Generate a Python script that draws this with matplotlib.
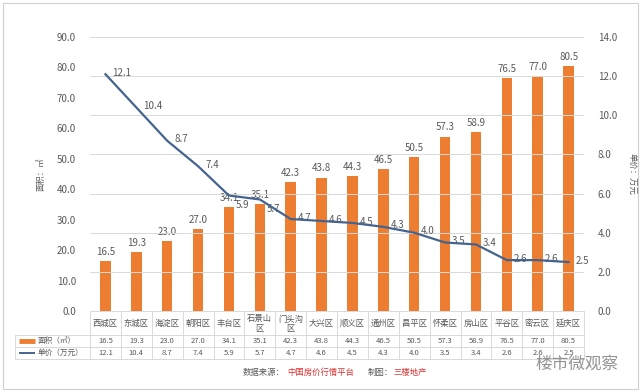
import matplotlib.pyplot as plt
from matplotlib.patches import Rectangle
from matplotlib.lines import Line2D

plt.rcParams['font.family'] = ['Noto Sans CJK SC', 'DejaVu Sans']

# data
districts = ["西城区", "东城区", "海淀区", "朝阳区", "丰台区", "石景山\n区", "门头沟\n区", "大兴区",
             "顺义区", "通州区", "昌平区", "怀柔区", "房山区", "平谷区", "密云区", "延庆区"]
area = [16.5, 19.3, 23.0, 27.0, 34.1, 35.1, 42.3, 43.8, 44.3, 46.5, 50.5, 57.3, 58.9, 76.5, 77.0, 80.5]
price = [12.1, 10.4, 8.7, 7.4, 5.9, 5.7, 4.7, 4.6, 4.5, 4.3, 4.0, 3.5, 3.4, 2.6, 2.6, 2.5]

W, H = 641, 392
ORANGE = '#ED7D31'
BLUE = '#44648F'
GRID = '#D9D9D9'
TXT = '#595959'

fig = plt.figure(figsize=(W / 100, H / 100), dpi=100)
fig.patches.append(Rectangle((3 / W, 3 / H), 635 / W, 386 / H, transform=fig.transFigure,
                             fill=False, edgecolor='#D0D0D0', lw=0.8))

# plot area in pixels
x0, x1, ytop, ybot = 90, 584, 37, 311
ax = fig.add_axes([x0 / W, (H - ybot) / H, (x1 - x0) / W, (ybot - ytop) / H])
ax2 = ax.twinx()
n = len(districts)
xs = list(range(n))

ax2.set_zorder(ax.get_zorder() + 1)
ax.patch.set_visible(False)

ax.bar(xs, area, width=0.34, color=ORANGE, zorder=3)
for x, v in zip(xs, area):
    ax.annotate(f"{v:.1f}", (x, v), xytext=(0, 3), textcoords='offset points',
                ha='center', va='bottom', fontsize=7, color=TXT)

ax2.plot(xs, price, color=BLUE, lw=1.6, zorder=4)
for i, (x, v) in enumerate(zip(xs, price)):
    dy = -7 if i in (4, 5) else 1
    ax2.annotate(f"{v:.1f}", (x, v), xytext=(5, dy), textcoords='offset points',
                 ha='left', va='center', fontsize=7, color=TXT)

ax.set_xlim(-0.5, n - 0.5)
ax.set_ylim(0, 90)
ax2.set_ylim(0, 14)
ax.set_yticks(range(0, 91, 10))
ax.set_yticklabels([f"{v:.1f}" for v in range(0, 91, 10)])
ax2.set_yticks(range(0, 15, 2))
ax2.set_yticklabels([f"{v:.1f}" for v in range(0, 15, 2)])
ax2.grid(axis='y', color=GRID, lw=0.7, zorder=0)
ax.set_xticks([])
for a in (ax, ax2):
    for s in a.spines.values():
        s.set_visible(False)
    a.tick_params(axis='y', length=0, labelsize=7, labelcolor=TXT, pad=10)
ax.set_ylabel("面积：㎡", fontsize=6, color=TXT, labelpad=8)
ax2.set_ylabel("单价：万元", fontsize=6, color=TXT, rotation=270, labelpad=14)

# data table below the plot (x in data coords, y in figure pixels)
def fy(y):
    return (ybot - y) / (ybot - ytop)

tr = ax.get_xaxis_transform()
rows = [311, 335, 347, 359]
for y in rows:
    ax.add_line(Line2D([-0.5, n - 0.5], [fy(y)] * 2, transform=tr, color=GRID, lw=0.7, clip_on=False))
for y in rows[1:]:
    fig.add_artist(Line2D([15 / W, x0 / W], [(H - y) / H] * 2, color=GRID, lw=0.7))
fig.add_artist(Line2D([15 / W, 15 / W], [(H - 335) / H, (H - 359) / H], color=GRID, lw=0.7))
for i in range(n + 1):
    ax.add_line(Line2D([i - 0.5, i - 0.5], [fy(311), fy(359)], transform=tr, color=GRID, lw=0.7,
                       clip_on=False))
for i, name in enumerate(districts):
    ax.text(i, fy(323.5), name, transform=tr, ha='center', va='center', fontsize=6,
            color=TXT, linespacing=1.0)
    ax.text(i, fy(341), f"{area[i]:.1f}", transform=tr, ha='center', va='center', fontsize=5.5, color=TXT)
    ax.text(i, fy(353), f"{price[i]:.1f}", transform=tr, ha='center', va='center', fontsize=5.5, color=TXT)

# legend keys inside table header
fig.add_artist(Line2D([19 / W, 35 / W], [(H - 341) / H] * 2, color=ORANGE, lw=3.5,
                      solid_capstyle='butt'))
fig.add_artist(Line2D([19 / W, 35 / W], [(H - 353) / H] * 2, color=BLUE, lw=1.4,
                      solid_capstyle='butt'))
fig.text(38 / W, (H - 341) / H, "面积（㎡）", fontsize=5.5, color=TXT, va='center')
fig.text(38 / W, (H - 353) / H, "单价（万元）", fontsize=5.5, color=TXT, va='center')

# source line
ys = (H - 372) / H
fig.text(243 / W, ys, "数据来源：", fontsize=6, color=TXT, va='center')
fig.text(287 / W, ys, "中国房价行情平台", fontsize=6, color='#E03030', va='center')
fig.text(368 / W, ys, "制图：", fontsize=6, color=TXT, va='center')
fig.text(393 / W, ys, "三楼地产", fontsize=6, color='#E03030', va='center')

# watermark
fig.text(535 / W, (H - 364) / H, "楼市微观察", fontsize=12, color='#808080', va='center', alpha=0.85)

fig.savefig("out.png", dpi=100)
